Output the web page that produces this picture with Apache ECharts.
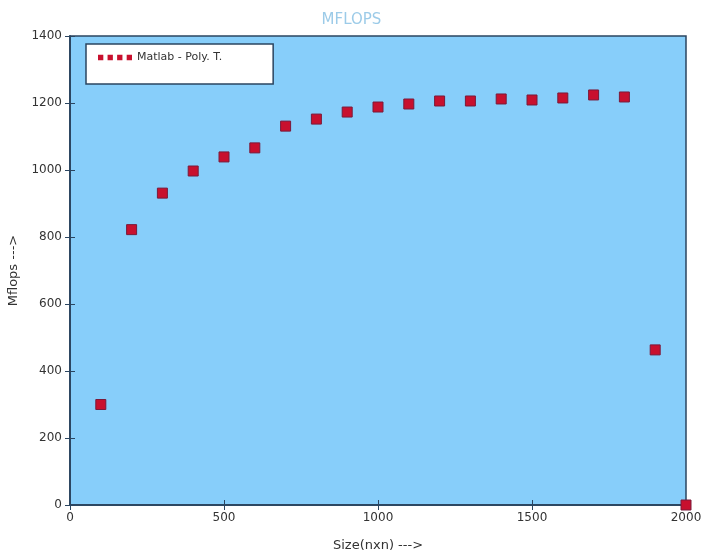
<!DOCTYPE html>
<html>
<head>
<meta charset="utf-8">
<script src="https://cdn.jsdelivr.net/npm/echarts@6/dist/echarts.min.js"></script>
<style>html,body{margin:0;padding:0;background:#fff}#c{width:703px;height:556px}</style>
</head>
<body>
<div id="c"></div>
<script>
const sizes = [100,200,300,400,500,600,700,800,900,1000,1100,1200,1300,1400,1500,1600,1700,1800,1900,2000];
const mflops = [300,822,931,997,1039,1066,1131,1152,1173,1188,1197,1206,1206,1212,1209,1215,1224,1218,463,0];
const seriesName = 'Matlab - Poly. T.';
const xTicks = [0,500,1000,1500,2000];
const yTicks = [0,200,400,600,800,1000,1200,1400];

const chart = echarts.init(document.getElementById('c'), null, {renderer:'canvas'});
const frame = '#2b4560';
const txt = '#333';
const tickStyle = {show:true, inside:true, length:5, lineStyle:{color:frame, width:1}};
chart.setOption({
  animation:false,
  backgroundColor:'#ffffff',
  title:{text:'MFLOPS', left:'center', top:8, textStyle:{color:'#9ccbe8', fontSize:15, fontWeight:'normal', fontFamily:'DejaVu Sans'}},
  legend:{
    left:86, top:44, orient:'vertical',
    backgroundColor:'#ffffff', borderColor:frame, borderWidth:1.5,
    padding:[8,51,21,12],
    itemWidth:34, itemHeight:6, itemGap:6,
    icon:'path://M0,0h5v5h-5z M9,0h5v5h-5z M18,0h5v5h-5z M27,0h5v5h-5z',
    textStyle:{color:txt, fontSize:11, fontFamily:'DejaVu Sans'},
    data:[{name:seriesName, itemStyle:{color:'#c8102e', borderWidth:0}}]
  },
  grid:{left:70, right:17, top:36, bottom:51, outerBoundsMode:'none', containLabel:false, show:true, backgroundColor:'#87cefa', borderColor:frame, borderWidth:1.5},
  xAxis:[{
    type:'value', min:0, max:2000, interval:500, position:'bottom',
    axisLine:{show:true, lineStyle:{color:frame, width:1.5}},
    axisTick:tickStyle, splitLine:{show:false},
    axisLabel:{color:txt, fontSize:12, margin:7, fontFamily:'DejaVu Sans', formatter:v=>xTicks.includes(v)?String(v):''},
    name:'Size(nxn) --->', nameLocation:'middle', nameGap:34,
    nameTextStyle:{color:txt, fontSize:13, fontFamily:'DejaVu Sans'}
  },{
    type:'value', min:0, max:2000, interval:500, position:'top',
    axisLine:{show:true, lineStyle:{color:frame, width:1.5}},
    axisTick:tickStyle, axisLabel:{show:false}, splitLine:{show:false}
  }],
  yAxis:[{
    type:'value', min:0, max:1400, interval:200, position:'left',
    axisLine:{show:true, lineStyle:{color:frame, width:1.5}},
    axisTick:tickStyle, splitLine:{show:false},
    axisLabel:{color:txt, fontSize:12, margin:8, fontFamily:'DejaVu Sans', formatter:v=>yTicks.includes(v)?String(v):''},
    name:'Mflops --->', nameLocation:'middle', nameGap:48,
    nameTextStyle:{color:txt, fontSize:13, fontFamily:'DejaVu Sans'}
  },{
    type:'value', min:0, max:1400, interval:200, position:'right',
    axisLine:{show:true, lineStyle:{color:frame, width:1.5}},
    axisTick:tickStyle, axisLabel:{show:false}, splitLine:{show:false}
  }],
  series:[{
    name:seriesName, type:'scatter', clip:true,
    symbol:'rect', symbolSize:10,
    itemStyle:{color:'#c8102e', borderColor:'#7a1a3a', borderWidth:1, opacity:1},
    data:sizes.map((s,i)=>[s, mflops[i]])
  }]
});
</script>
</body>
</html>
